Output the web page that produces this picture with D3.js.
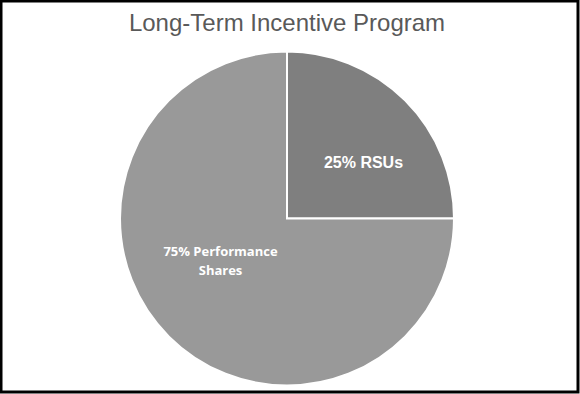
<!DOCTYPE html>
<html lang="en">
<head>
<meta charset="UTF-8">
<title>Long-Term Incentive Program</title>
<style>
  html, body { margin: 0; padding: 0; background: #fff; }
  svg { display: block; }
</style>
</head>
<body>
<svg id="chart" width="580" height="394"></svg>
<script src="https://cdn.jsdelivr.net/npm/d3@7"></script>
<script>
var categories = ['RSUs', 'Performance Shares']
var values = [25, 75]
var labels = [['25% RSUs'], ['75% Performance', 'Shares']]
var colors = ['#7f7f7f', '#999999']

var width = 580, height = 394
var cx = 287, cy = 218.5, radius = 167

var svg = d3.select('#chart')

// outer frame
svg.append('rect').attr('x', 1).attr('y', 1).attr('width', width - 3).attr('height', height - 3)
    .attr('fill', '#fff').attr('stroke', '#000').attr('stroke-width', 3)

svg.append('text').attr('x', 287).attr('y', 30.5).attr('text-anchor', 'middle')
    .attr('font-family', 'Liberation Sans, Arial, sans-serif').attr('font-size', 24)
    .attr('fill', '#595959').text('Long-Term Incentive Program')

var data = categories.map((c, i) => ({name: c, value: values[i], label: labels[i], color: colors[i]}))

var pie = d3.pie().sort(null).value(d => d.value)
var arc = d3.arc().innerRadius(0).outerRadius(radius)
var labelArc = d3.arc().innerRadius(radius * 0.58).outerRadius(radius * 0.58)

var g = svg.append('g').attr('transform', `translate(${cx},${cy})`)

g.selectAll('path').data(pie(data)).join('path')
    .attr('d', arc)
    .attr('fill', d => d.data.color)
    .attr('stroke', '#fff').attr('stroke-width', 2).attr('stroke-linejoin', 'miter')

// excel-ish label placement: nudge from centroid
var nudge = [[8, 12], [2, -26]]
var fonts = [
    {family: 'Liberation Sans, Arial, sans-serif', size: 16, lh: 19},
    {family: 'Open Sans, Calibri, sans-serif', size: 13, lh: 18.6}
]

g.selectAll('text.lbl').data(pie(data)).join('text')
    .attr('class', 'lbl')
    .attr('fill', '#fff').attr('font-weight', 'bold').attr('text-anchor', 'middle')
    .attr('font-family', (d, i) => fonts[i].family).attr('font-size', (d, i) => fonts[i].size)
    .each(function(d, i) {
        var c = labelArc.centroid(d)
        var x = c[0] + nudge[i][0], y = c[1] + nudge[i][1]
        var lines = d.data.label
        var t = d3.select(this)
        lines.forEach((s, k) => {
            t.append('tspan').attr('x', x)
                .attr('y', y - (lines.length - 1) * fonts[i].lh / 2 + k * fonts[i].lh + fonts[i].size * 0.35)
                .text(s)
        })
    })
</script>
</body>
</html>
